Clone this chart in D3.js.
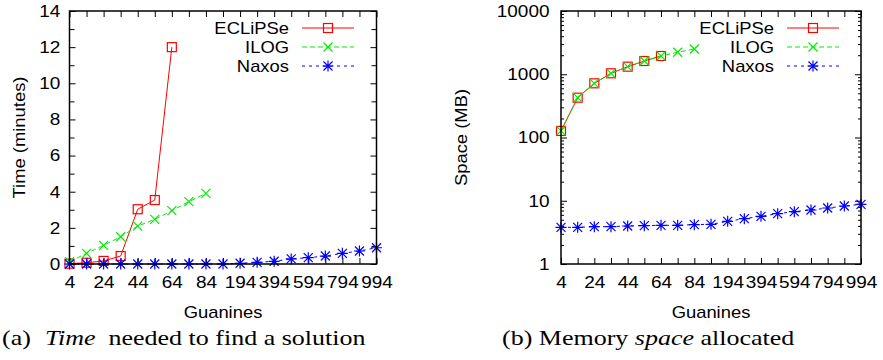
<!DOCTYPE html>
<html>
<head>
<meta charset="utf-8">
<script src="https://cdn.jsdelivr.net/npm/d3@7"></script>
<style>
  body { margin: 0; background: #fff; }
  svg { display: block; }
  .tick text { font-family: "Liberation Sans", Arial, sans-serif; }
</style>
</head>
<body>
<div id="chart"></div>
<script>
(function () {
    // x positions (Guanines) - categorical, evenly spaced
    var guanines = [4, 14, 24, 34, 44, 54, 64, 74, 84, 94, 194, 294, 394, 494, 594, 694, 794, 894, 994];
    var xLabels = [4, 24, 44, 64, 84, 194, 394, 594, 794, 994];

    // (a) time in minutes
    var timeEclipse = [0.02, 0.07, 0.17, 0.44, 3.03, 3.54, 12.0];
    var timeIlog = [0.13, 0.59, 1.03, 1.51, 2.10, 2.47, 2.95, 3.45, 3.91];
    var timeNaxos = [0, 0, 0, 0, 0, 0, 0, 0, 0, 0, 0.04, 0.09, 0.15, 0.28, 0.35, 0.44, 0.59, 0.72, 0.90];

    // (b) space in MB
    var spaceEclipse = [127, 426, 719, 1035, 1318, 1619, 1944];
    var spaceIlog = [127, 426, 719, 1035, 1318, 1619, 1944, 2224, 2506];
    var spaceNaxos = [3.80, 3.80, 3.89, 3.89, 3.99, 4.04, 4.09, 4.09, 4.19, 4.24, 4.73, 5.21, 5.67, 6.25, 6.72, 7.14, 7.68, 8.26, 8.78];

    var seriesNames = ["ECLiPSe", "ILOG", "Naxos"];

    var width = 883, height = 360;
    var sansFont = "Liberation Sans, Arial, sans-serif";
    var stretch = "scale(1.15,1)"; // the figure's text is a bit wide

    var svg = d3.select("#chart").append("svg")
        .attr("width", width)
        .attr("height", height);

    var styles = {
        "ECLiPSe": {color: "#ff0000", dash: null, marker: "square"},
        "ILOG": {color: "#00ee00", dash: "5,3", marker: "cross"},
        "Naxos": {color: "#0000ff", dash: "3,4", marker: "star"}
    };

    function drawMarker(g, type, color, x, y) {
        var s = 4.5;
        if (type === "square") {
            g.append("rect").attr("x", x - s).attr("y", y - s)
                .attr("width", 2 * s).attr("height", 2 * s)
                .attr("fill", "none").attr("stroke", color).attr("stroke-width", 1.2);
        } else if (type === "cross") {
            g.append("path").attr("d", `M${x - s},${y - s}L${x + s},${y + s}M${x - s},${y + s}L${x + s},${y - s}`)
                .attr("stroke", color).attr("stroke-width", 1.2);
        } else {
            g.append("path").attr("d", `M${x - s},${y - s}L${x + s},${y + s}M${x - s},${y + s}L${x + s},${y - s}M${x},${y - s - 1}L${x},${y + s + 1}M${x - s - 1},${y}L${x + s + 1},${y}`)
                .attr("stroke", color).attr("stroke-width", 1.2);
        }
    }

    function panel(opts) {
        var x0 = opts.left, x1 = opts.right, y0 = 11, y1 = 264;
        var g = svg.append("g");

        var x = d3.scalePoint().domain(guanines).range([x0, x1]).padding(0);
        var y = opts.log
            ? d3.scaleLog().domain([1, 10000]).range([y1, y0])
            : d3.scaleLinear().domain([0, 14]).range([y1, y0]);

        // x ticks, inward on top and bottom
        g.append("g").attr("transform", `translate(0,${y1})`)
            .call(d3.axisBottom(x).tickValues(guanines).tickSize(-6).tickFormat(""))
            .call(a => a.select(".domain").remove());
        g.append("g").attr("transform", `translate(0,${y0})`)
            .call(d3.axisTop(x).tickValues(guanines).tickSize(-6).tickFormat(""))
            .call(a => a.select(".domain").remove());
        g.append("g").attr("transform", `translate(0,${y1})`)
            .call(d3.axisBottom(x).tickValues(xLabels).tickSize(0).tickPadding(12))
            .call(a => a.select(".domain").remove())
            .selectAll("text").attr("font-size", 16.5).attr("fill", "#000")
            .attr("transform", stretch);

        // y ticks
        var major, minor = [];
        if (opts.log) {
            major = [1, 10, 100, 1000, 10000];
            [1, 10, 100, 1000].forEach(d => { for (var k = 2; k < 10; k++) minor.push(d * k); });
        } else {
            major = d3.range(0, 15, 2);
            minor = d3.range(1, 14, 2);
        }
        [[d3.axisLeft, x0], [d3.axisRight, x1]].forEach(function (p) {
            g.append("g").attr("transform", `translate(${p[1]},0)`)
                .call(p[0](y).tickValues(major).tickSize(-6).tickFormat(""))
                .call(a => a.select(".domain").remove());
            g.append("g").attr("transform", `translate(${p[1]},0)`)
                .call(p[0](y).tickValues(minor).tickSize(opts.log ? -3 : -5).tickFormat(""))
                .call(a => a.select(".domain").remove());
        });
        g.append("g").attr("transform", `translate(${x0},0)`)
            .call(d3.axisLeft(y).tickValues(major).tickSize(0).tickPadding(opts.yPad).tickFormat(d3.format("d")))
            .call(a => a.select(".domain").remove())
            .selectAll("text").attr("font-size", 16.5).attr("fill", "#000")
            .attr("transform", stretch);

        g.selectAll(".tick line").attr("stroke", "#000").attr("stroke-width", 1);

        // series
        opts.series.forEach(function (s) {
            var st = styles[s.name];
            var pts = s.values.map((v, i) => [x(guanines[i]), y(v)]);
            g.append("path")
                .attr("d", d3.line()(pts))
                .attr("fill", "none")
                .attr("stroke", st.color)
                .attr("stroke-width", 1)
                .attr("stroke-dasharray", st.dash);
            var mg = g.append("g");
            pts.forEach(p => drawMarker(mg, st.marker, st.color, p[0], p[1]));
        });

        // frame
        g.append("rect").attr("x", x0).attr("y", y0)
            .attr("width", x1 - x0).attr("height", y1 - y0)
            .attr("fill", "none").attr("stroke", "#000").attr("stroke-width", 1.5);

        // legend
        seriesNames.forEach(function (name, i) {
            var st = styles[name];
            var ly = 28 + i * 19;
            g.append("g").attr("transform", `translate(${opts.legendX},${ly}) ${stretch}`)
                .append("text")
                .attr("dy", "0.36em").attr("text-anchor", "end")
                .attr("font-family", sansFont)
                .attr("font-size", 16).text(name);
            g.append("line").attr("x1", opts.legendX + 13).attr("x2", opts.legendX + 65)
                .attr("y1", ly).attr("y2", ly)
                .attr("stroke", st.color).attr("stroke-width", 1)
                .attr("stroke-dasharray", st.dash);
            drawMarker(g, st.marker, st.color, opts.legendX + 39, ly);
        });

        // axis titles
        g.append("text")
            .attr("transform", `translate(${opts.titleX},${(y0 + y1) / 2}) rotate(-90) ${stretch}`)
            .attr("text-anchor", "middle")
            .attr("font-family", sansFont)
            .attr("font-size", 16).text(opts.yTitle);
        g.append("text")
            .attr("transform", `translate(${(x0 + x1) / 2},318) ${stretch}`)
            .attr("text-anchor", "middle")
            .attr("font-family", sansFont)
            .attr("font-size", 16).text("Guanines");

        // caption (Computer Modern look-alike: widened serif)
        var cap = svg.append("g").attr("transform", `translate(${opts.capX},345) scale(1.3,1)`)
            .append("text")
            .attr("font-family", "Liberation Serif, Times New Roman, serif")
            .attr("font-size", 20);
        opts.caption.forEach(c => cap.append("tspan")
            .attr("x", c[2])
            .attr("font-style", c[1] ? "italic" : null)
            .text(c[0]));
    }

    panel({
        left: 69.5, right: 376.5, log: false, legendX: 289, titleX: 25, yPad: 8,
        yTitle: "Time (minutes)",
        series: [
            {name: "ECLiPSe", values: timeEclipse},
            {name: "ILOG", values: timeIlog},
            {name: "Naxos", values: timeNaxos}
        ],
        capX: 2,
        caption: [["(a)", false, 0], ["Time", true, 33], ["\u2002needed to find a solution", false, null]]
    });

    panel({
        left: 561, right: 861, log: true, legendX: 774, titleX: 467, yPad: 10,
        yTitle: "Space (MB)",
        series: [
            {name: "ECLiPSe", values: spaceEclipse},
            {name: "ILOG", values: spaceIlog},
            {name: "Naxos", values: spaceNaxos}
        ],
        capX: 502,
        caption: [["(b) Memory ", false, 0], ["space", true, null], [" allocated", false, null]]
    });
}());
</script>
</body>
</html>
